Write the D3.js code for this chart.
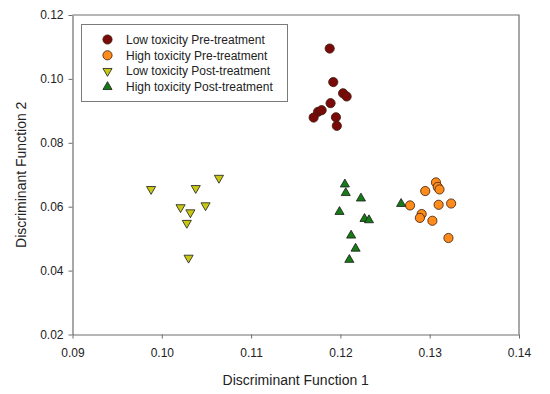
<!DOCTYPE html>
<html>
<head>
<meta charset="utf-8">
<script src="https://cdn.jsdelivr.net/npm/d3@7"></script>
<style>
  body { margin: 0; background: #fff; }
  svg { display: block; font-family: "Liberation Sans", Arial, sans-serif; }
</style>
</head>
<body>
<div id="chart"></div>
<script>
// values
var lowPreX  = [0.1188, 0.1192, 0.1203, 0.1207, 0.1189, 0.1175, 0.1179, 0.1170, 0.1195, 0.1196];
var lowPreY  = [0.1095, 0.0990, 0.0955, 0.0945, 0.0924, 0.0897, 0.0902, 0.0879, 0.0880, 0.0853];

var highPreX = [0.1307, 0.1309, 0.1311, 0.1295, 0.1278, 0.1310, 0.1324, 0.1291, 0.1289, 0.1303, 0.1321];
var highPreY = [0.0676, 0.0662, 0.0654, 0.0649, 0.0604, 0.0606, 0.0610, 0.0577, 0.0565, 0.0556, 0.0502];

var lowPostX = [0.1064, 0.0988, 0.1038, 0.1021, 0.1049, 0.1032, 0.1028, 0.1030];
var lowPostY = [0.0690, 0.0655, 0.0658, 0.0598, 0.0604, 0.0582, 0.0549, 0.0440];

var highPostX = [0.1205, 0.1206, 0.1223, 0.1199, 0.1227, 0.1232, 0.1212, 0.1217, 0.1210, 0.1268];
var highPostY = [0.0670, 0.0643, 0.0626, 0.0584, 0.0562, 0.0558, 0.0510, 0.0469, 0.0434, 0.0609];

var seriesNames = ["Low toxicity Pre-treatment", "High toxicity Pre-treatment",
                   "Low toxicity Post-treatment", "High toxicity Post-treatment"];
var xTicks = [0.09, 0.10, 0.11, 0.12, 0.13, 0.14];
var yTicks = [0.02, 0.04, 0.06, 0.08, 0.10, 0.12];

var series = [
  { name: seriesNames[0], xs: lowPreX,  ys: lowPreY,  shape: "circle",  fill: "#7a0a0a" },
  { name: seriesNames[1], xs: highPreX, ys: highPreY, shape: "circle",  fill: "#ff8c1a" },
  { name: seriesNames[2], xs: lowPostX, ys: lowPostY, shape: "down",    fill: "#c8c814" },
  { name: seriesNames[3], xs: highPostX, ys: highPostY, shape: "up",    fill: "#167a16" }
];

var width = 550, height = 394;
var plotL = 72.5, plotR = 519, plotT = 15, plotB = 334.5;

var x = d3.scaleLinear().domain([0.09, 0.14]).range([plotL, plotR]);
var y = d3.scaleLinear().domain([0.02, 0.12]).range([plotB, plotT]);

var svg = d3.select("#chart").append("svg")
    .attr("width", width)
    .attr("height", height);

var axisColor = "#6e6e6e";

// frame (top and right)
svg.append("path")
    .attr("d", "M" + plotL + "," + plotT + "H" + plotR + "V" + plotB)
    .attr("fill", "none")
    .attr("stroke", axisColor)
    .attr("stroke-width", 1.2);

var xAxis = svg.append("g")
    .attr("transform", "translate(0," + plotB + ")")
    .call(d3.axisBottom(x).tickValues(xTicks).tickFormat(d3.format(".2f")).tickSize(4).tickSizeOuter(0));
var yAxis = svg.append("g")
    .attr("transform", "translate(" + plotL + ",0)")
    .call(d3.axisLeft(y).tickValues(yTicks).tickFormat(d3.format(".2f")).tickSize(4).tickSizeOuter(0));

[xAxis, yAxis].forEach(function(g) {
  g.select(".domain").attr("stroke", axisColor).attr("stroke-width", 1.2);
  g.selectAll(".tick line").attr("stroke", axisColor);
  g.selectAll(".tick text").attr("fill", "#222").style("font-size", "12px")
      .style("font-family", "Liberation Sans, Arial, sans-serif");
});
xAxis.selectAll(".tick text").attr("dy", "0").attr("y", 22);
yAxis.selectAll(".tick text").attr("x", -9);

// axis titles
svg.append("text")
    .attr("x", (plotL + plotR) / 2)
    .attr("y", 385)
    .attr("text-anchor", "middle")
    .style("font-size", "14px")
    .attr("fill", "#222")
    .text("Discriminant Function 1");

svg.append("text")
    .attr("transform", "translate(26," + (plotT + plotB) / 2 + ") rotate(-90)")
    .attr("text-anchor", "middle")
    .style("font-size", "14px")
    .attr("fill", "#222")
    .text("Discriminant Function 2");

var triUp = d3.symbol().type(d3.symbolTriangle).size(36);

function drawMarker(g, s, cx, cy) {
  if (s.shape === "circle") {
    g.append("circle")
        .attr("cx", cx).attr("cy", cy).attr("r", 4.6)
        .attr("fill", s.fill).attr("stroke", "#3a1a0a").attr("stroke-width", 0.8);
  } else {
    g.append("path")
        .attr("d", triUp())
        .attr("transform", "translate(" + cx + "," + cy + ")" + (s.shape === "down" ? " rotate(180)" : ""))
        .attr("fill", s.fill).attr("stroke", "#1a1a1a").attr("stroke-width", 0.8);
  }
}

// points
var pts = svg.append("g");
series.forEach(function(s) {
  var data = d3.zip(s.xs, s.ys);
  var grp = pts.append("g");
  data.forEach(function(d) { drawMarker(grp, s, x(d[0]), y(d[1])); });
});

// legend
var legend = svg.append("g");
legend.append("rect")
    .attr("x", 81.5).attr("y", 24.5)
    .attr("width", 206).attr("height", 77)
    .attr("fill", "#fff")
    .attr("stroke", "#7a7a7a");

series.forEach(function(s, i) {
  var ly = 39.5 + i * 15.8;
  drawMarker(legend, s, 107.5, ly);
  legend.append("text")
      .attr("x", 126).attr("y", ly + 4.3)
      .style("font-size", "12px")
      .attr("fill", "#222")
      .text(s.name);
});
</script>
</body>
</html>
